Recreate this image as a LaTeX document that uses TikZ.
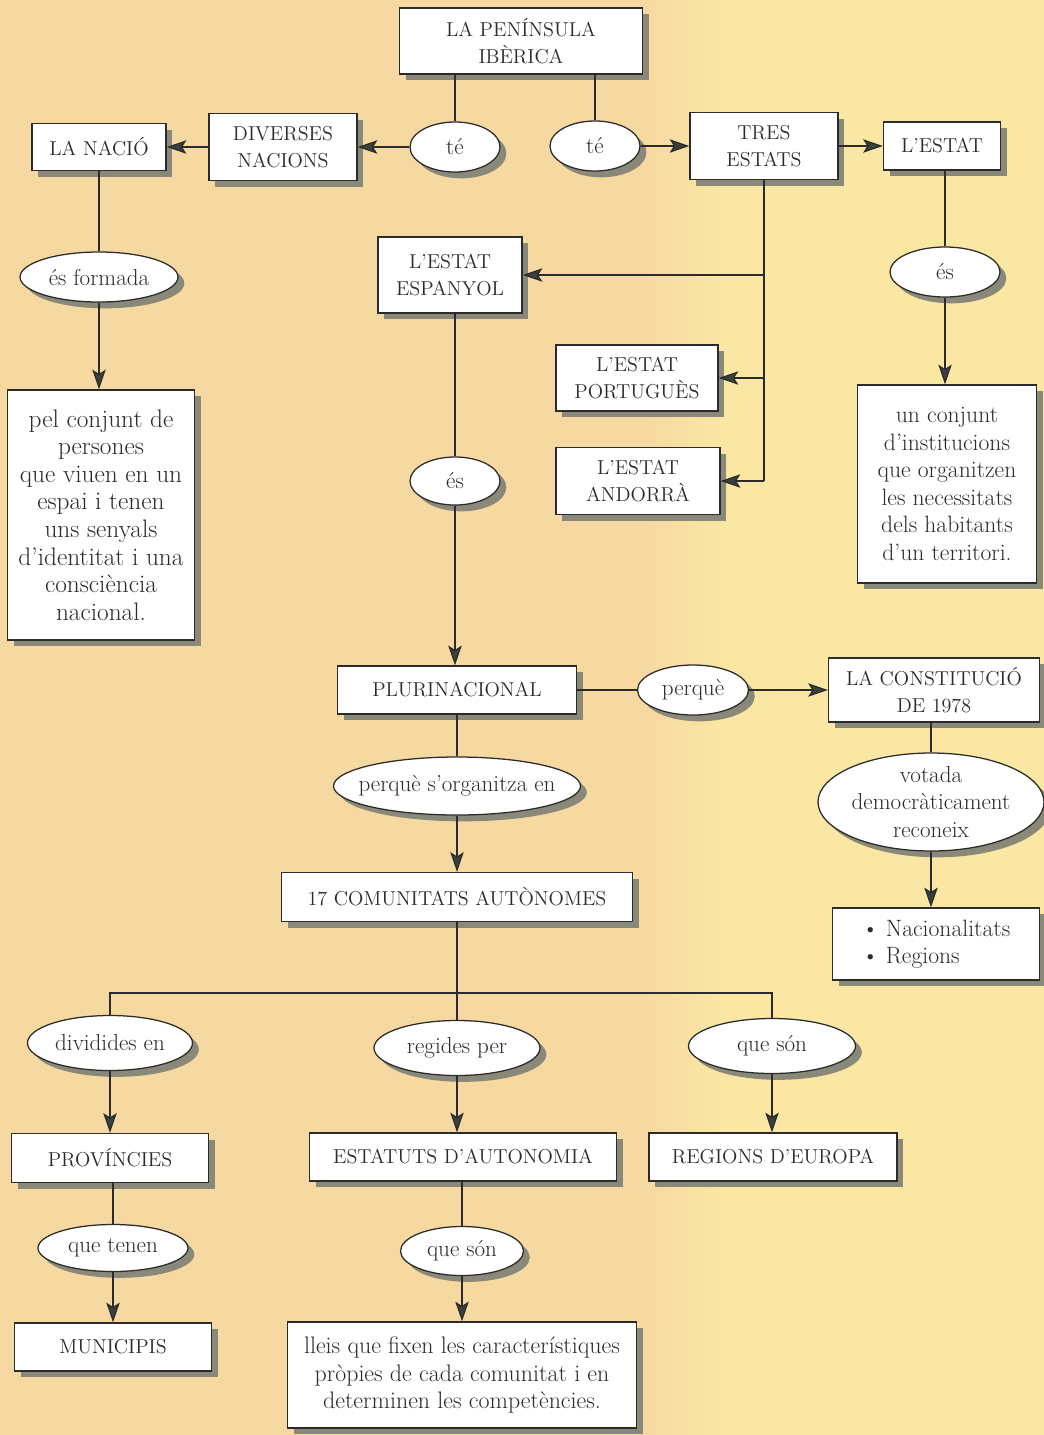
\documentclass[tikz,border=0pt]{standalone}
\usepackage{tikz}
\usetikzlibrary{arrows.meta, shapes.geometric, shadows}
\definecolor{PaperOrange}{HTML}{F6D8A1}
\definecolor{PaperYellow}{HTML}{F9E7A3}
\definecolor{Ink}{HTML}{2B2B2B}
\definecolor{HeadFill}{HTML}{3C403C}
\definecolor{Shade}{HTML}{8A8878}
\tikzset{
    dims/.style 2 args={minimum width=#1*0.025cm, minimum height=#2*0.025cm},
    conceptbox/.style={rectangle, draw=Ink, line width=0.9pt, fill=white, text=Ink, align=center, inner sep=0pt, font=\fontsize{14.3}{19.6}\selectfont, drop shadow={shadow xshift=4.5pt, shadow yshift=-4.5pt, fill=Shade, opacity=1}},
    textbox/.style={conceptbox, font=\fontsize{16.8}{19.6}\selectfont},
    linkoval/.style={ellipse, draw=Ink, line width=0.9pt, fill=white, text=Ink, align=center, inner sep=0pt, font=\fontsize{16.4}{19.6}\selectfont, drop shadow={shadow xshift=4.5pt, shadow yshift=-4.5pt, fill=Shade, opacity=1}},
    link/.style={line width=0.9pt, color=Ink},
    arrow/.style={link, -{Stealth[length=14pt, width=9.5pt, inset=3pt, fill=HeadFill]}},
}

\begin{document}
\begin{tikzpicture}[x=0.025cm, y=-0.025cm]
    % Fons: paper escanejat
    \useasboundingbox (0,0) rectangle (1044,1435);
    \fill[PaperOrange] (0,0) rectangle (640,1435);
    \shade[left color=PaperOrange, right color=PaperYellow] (640,0) rectangle (720,1435);
    \fill[PaperYellow] (720,0) rectangle (1044,1435);

    % Capçalera
    \node[conceptbox, dims={243}{66}] (peninsula) at (521,41) {LA PENÍNSULA\\IBÈRICA};
    \node[linkoval, dims={90}{50}] (te1) at (455,147) {té};
    \node[linkoval, dims={90}{50}] (te2) at (595,146) {té};
    \node[conceptbox, dims={148}{67}] (diverses) at (283,147) {DIVERSES\\NACIONS};
    \node[conceptbox, dims={134}{47}] (nacio) at (99,147) {LA NACIÓ};
    \node[conceptbox, dims={148}{67}] (tres) at (764,146) {TRES\\ESTATS};
    \node[conceptbox, dims={117}{48}] (estat) at (942,146) {L’ESTAT};

    % La nació
    \node[linkoval, dims={158}{50}] (formada) at (99,277) {és formada};
    \node[textbox, dims={187}{250}, font=\fontsize{18}{19.6}\selectfont] (persones) at (101,515)
        {pel conjunt de\\persones\\que viuen en un\\espai i tenen\\uns senyals\\d’identitat i una\\consciència\\nacional.};

    % Els tres estats
    \node[conceptbox, dims={144}{76}] (espanyol) at (450,275) {L’ESTAT\\ESPANYOL};
    \node[conceptbox, dims={162}{66}] (portugues) at (637,378) {L’ESTAT\\PORTUGUÈS};
    \node[conceptbox, dims={164}{67}] (andorra) at (638,481) {L’ESTAT\\ANDORRÀ};

    % L'estat
    \node[linkoval, dims={110}{50}] (es2) at (945,272) {és};
    \node[textbox, dims={179}{198}] (institucions) at (947,484)
        {un conjunt\\d’institucions\\que organitzen\\les necessitats\\dels habitants\\d’un territori.};

    % Estat espanyol
    \node[linkoval, dims={90}{48}] (es1) at (455,481) {és};
    \node[conceptbox, dims={239}{48}] (plurinacional) at (457,690) {PLURINACIONAL};
    \node[linkoval, dims={111}{50}] (perque) at (693,690) {perquè};
    \node[conceptbox, dims={211}{64}] (constitucio) at (934,690) {LA CONSTITUCIÓ\\DE 1978};
    \node[linkoval, dims={247}{58}, inner xsep=-8pt] (organitza) at (457,786) {perquè s’organitza en};
    \node[linkoval, dims={226}{98}, inner ysep=-3pt] (votada) at (931,802) {votada\\democràticament\\reconeix};
    \node[conceptbox, dims={351}{49}] (comunitats) at (457,897) {17 COMUNITATS AUTÒNOMES};
    \node[textbox, dims={207}{72}, align=left] (nacionalitats) at (936,944) {\textbullet\ Nacionalitats\\\textbullet\ Regions};

    % Comunitats autònomes
    \coordinate (busL) at (110,993);
    \coordinate (busR) at (772,993);
    \node[linkoval, dims={165}{55}] (dividides) at (110,1043) {dividides en};
    \node[linkoval, dims={166}{55}] (regides) at (457,1048) {regides per};
    \node[linkoval, dims={167}{55}] (queson1) at (772,1046) {que són};
    \node[conceptbox, dims={197}{49}] (provincies) at (110,1158) {PROVÍNCIES};
    \node[conceptbox, dims={307}{48}] (estatuts) at (463,1157) {ESTATUTS D’AUTONOMIA};
    \node[conceptbox, dims={248}{48}] (regions) at (773,1157) {REGIONS D’EUROPA};
    \node[linkoval, dims={150}{47}] (tenen) at (113,1248) {que tenen};
    \node[linkoval, dims={123}{49}] (queson2) at (462,1251) {que són};
    \node[conceptbox, dims={197}{48}] (municipis) at (113,1347) {MUNICIPIS};
    \node[textbox, dims={349}{106}, font=\fontsize{17}{19.6}\selectfont] (lleis) at (462,1375)
        {lleis que fixen les característiques\\pròpies de cada comunitat i en\\determinen les competències.};

    % Connexions de la capçalera
    \draw[link] (te1 |- peninsula.south) -- (te1);
    \draw[link] (te2 |- peninsula.south) -- (te2);
    \draw[arrow] (te1) -- (diverses);
    \draw[arrow] (diverses) -- (nacio);
    \draw[arrow] (te2) -- (tres);
    \draw[arrow] (tres) -- (estat);

    \draw[link] (nacio) -- (formada);
    \draw[arrow] (formada) -- (formada |- persones.north);

    % Tronc dels tres estats
    \draw[link] (tres.south) -- (tres.south |- andorra.east);
    \draw[arrow] (tres.south |- espanyol.east) -- (espanyol.east);
    \draw[arrow] (tres.south |- portugues.east) -- (portugues.east);
    \draw[arrow] (tres.south |- andorra.east) -- (andorra.east);

    \draw[link] (es2 |- estat.south) -- (es2);
    \draw[arrow] (es2) -- (es2 |- institucions.north);

    \draw[link] (es1 |- espanyol.south) -- (es1);
    \draw[arrow] (es1) -- (es1 |- plurinacional.north);

    \draw[link] (plurinacional) -- (perque);
    \draw[arrow] (perque) -- (constitucio);
    \draw[link] (votada |- constitucio.south) -- (votada);
    \draw[arrow] (votada) -- (votada |- nacionalitats.north);

    \draw[link] (plurinacional) -- (organitza);
    \draw[arrow] (organitza) -- (organitza |- comunitats.north);

    % Repartiment inferior
    \draw[link] (comunitats) -- (regides);
    \draw[link] (dividides) -- (busL) -- (busR) -- (queson1);
    \draw[arrow] (dividides) -- (dividides |- provincies.north);
    \draw[arrow] (regides) -- (regides |- estatuts.north);
    \draw[arrow] (queson1) -- (queson1 |- regions.north);

    \draw[link] (tenen |- provincies.south) -- (tenen);
    \draw[arrow] (tenen) -- (tenen |- municipis.north);
    \draw[link] (queson2 |- estatuts.south) -- (queson2);
    \draw[arrow] (queson2) -- (queson2 |- lleis.north);
\end{tikzpicture}
\end{document}
